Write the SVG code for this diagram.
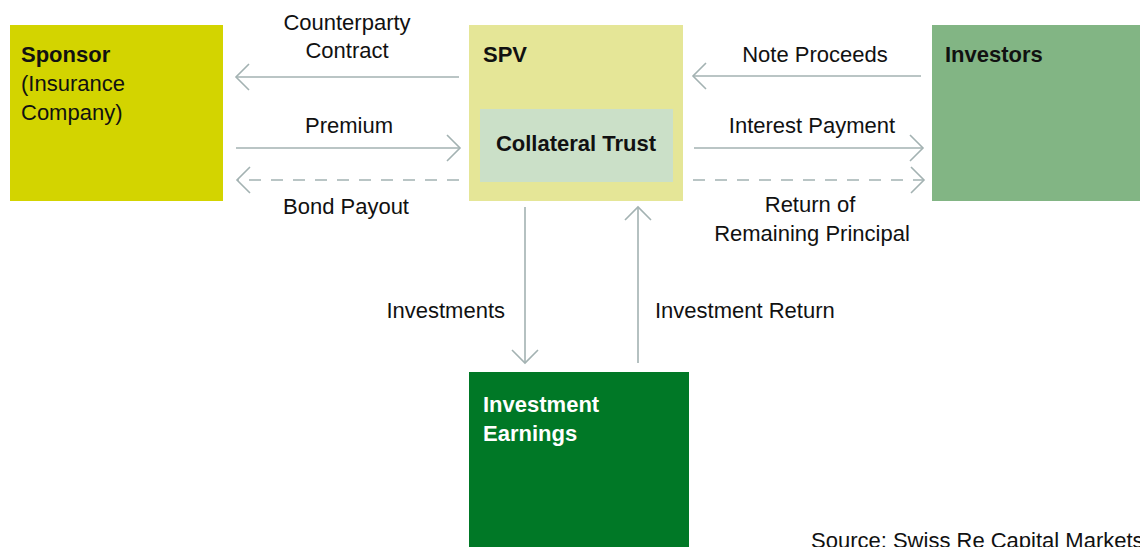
<svg xmlns="http://www.w3.org/2000/svg" width="1140" height="547" viewBox="0 0 1140 547">
  <style>
    text { font-family: "Liberation Sans", Arial, sans-serif; font-size: 22px; fill: #111; }
    .b { font-weight: bold; }
    .w { fill: #ffffff; }
    .mid { text-anchor: middle; }
    .end { text-anchor: end; }
    .flow { stroke: #a3b2b2; stroke-width: 1.6; fill: none; }
    .dash { stroke-dasharray: 12 10; }
  </style>
  <defs>
    <marker id="chev" viewBox="-14 -14 16 28" markerWidth="16" markerHeight="28" refX="0" refY="0" orient="auto" markerUnits="userSpaceOnUse">
      <path d="M-13,-13 L0,0 L-13,13" fill="none" stroke="#a3b2b2" stroke-width="1.6"/>
    </marker>
  </defs>
  <rect width="1140" height="547" fill="#ffffff"/>

  <g id="sponsor">
    <rect x="10" y="25" width="213" height="176" fill="#d3d400"/>
    <text x="21" y="62" class="b">Sponsor</text>
    <text x="21" y="91">(Insurance</text>
    <text x="21" y="120">Company)</text>
  </g>

  <g id="spv">
    <rect x="469" y="25" width="214" height="176" fill="#e5e697"/>
    <text x="483" y="62" class="b">SPV</text>
  </g>

  <g id="collateral-trust">
    <rect x="480" y="109" width="193" height="73" fill="#cbe0c8"/>
    <text x="576" y="151" class="b mid">Collateral Trust</text>
  </g>

  <g id="investors">
    <rect x="932" y="25" width="208" height="176" fill="#82b584"/>
    <text x="945" y="62" class="b">Investors</text>
  </g>

  <g id="investment-earnings">
    <rect x="469" y="372" width="220" height="175" fill="#007826"/>
    <text x="483" y="412" class="b w">Investment</text>
    <text x="483" y="441" class="b w">Earnings</text>
  </g>

  <g id="connectors">
    <line class="flow" x1="459" y1="77" x2="236" y2="77" marker-end="url(#chev)"/>
    <line class="flow" x1="236" y1="148" x2="460" y2="148" marker-end="url(#chev)"/>
    <line class="flow dash" x1="459" y1="180" x2="237" y2="180" marker-end="url(#chev)"/>

    <line class="flow" x1="921" y1="76" x2="693" y2="76" marker-end="url(#chev)"/>
    <line class="flow" x1="694" y1="148" x2="923" y2="148" marker-end="url(#chev)"/>
    <line class="flow dash" x1="693" y1="180" x2="924" y2="180" marker-end="url(#chev)"/>

    <line class="flow" x1="525" y1="207" x2="525" y2="363" marker-end="url(#chev)"/>
    <line class="flow" x1="638" y1="363" x2="638" y2="207" marker-end="url(#chev)"/>
  </g>

  <g id="labels">
    <text x="347" y="30" class="mid">Counterparty</text>
    <text x="347" y="58" class="mid">Contract</text>
    <text x="349" y="133" class="mid">Premium</text>
    <text x="346" y="214" class="mid">Bond Payout</text>
    <text x="815" y="62" class="mid">Note Proceeds</text>
    <text x="812" y="133" class="mid">Interest Payment</text>
    <text x="810" y="212" class="mid">Return of</text>
    <text x="812" y="241" class="mid">Remaining Principal</text>
    <text x="505" y="318" class="end">Investments</text>
    <text x="655" y="318">Investment Return</text>
    <text x="811" y="548">Source: Swiss Re Capital Markets</text>
  </g>
</svg>
